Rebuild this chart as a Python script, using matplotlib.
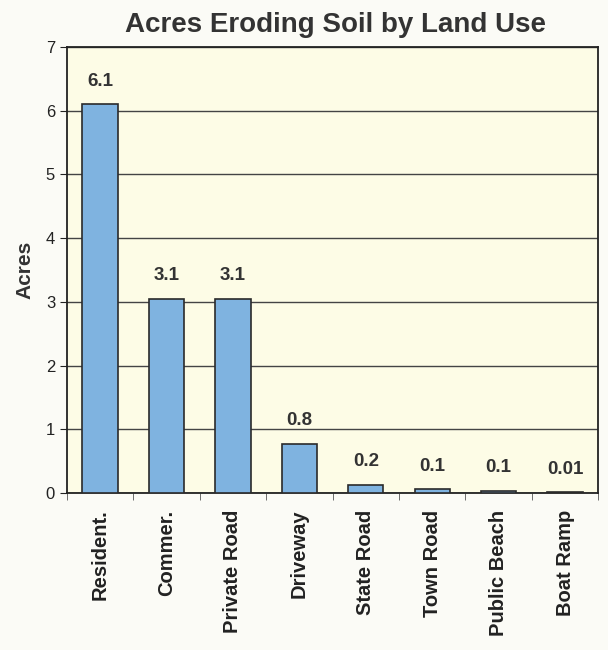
import matplotlib
matplotlib.use('Agg')
import matplotlib.pyplot as plt
import numpy as np

categories = ['Resident.', 'Commer.', 'Private Road', 'Driveway',
              'State Road', 'Town Road', 'Public Beach', 'Boat Ramp']
acres = [6.1, 3.05, 3.05, 0.77, 0.13, 0.06, 0.03, 0.01]
value_labels = ['6.1', '3.1', '3.1', '0.8', '0.2', '0.1', '0.1', '0.01']

plt.rcParams['font.family'] = ['Liberation Sans', 'DejaVu Sans']

fig = plt.figure(figsize=(6.08, 6.5), dpi=100)
fig.patch.set_facecolor('#fbfbf6')
ax = fig.add_axes([0.110, 0.2415, 0.874, 0.6865])
ax.set_facecolor('#fdfce6')

x = np.arange(len(categories))
ax.bar(x, acres, width=0.53, color='#7fb3e0', edgecolor='#2a2a2a', linewidth=1.2, zorder=3)

# etiket nilai di atas tiap batang
for xi, v, lab in zip(x, acres, value_labels):
    ax.text(xi, v + 0.23, lab, ha='center', va='bottom',
            fontsize=13.5, fontweight='bold', color='#333333')

ax.set_xlim(-0.5, len(categories) - 0.5)
ax.set_ylim(0, 7)
ax.set_yticks(range(8))
ax.yaxis.grid(True, color='#444444', linewidth=1.0, zorder=0)
ax.tick_params(axis='y', labelsize=12, length=5, colors='#222222')

ax.set_xticks(x)
ax.set_xticklabels(categories, rotation=90, fontsize=14.5, fontweight='bold', color='#222222')
ax.tick_params(axis='x', length=0, pad=12)
ax.set_xticks(np.arange(len(categories) + 1) - 0.5, minor=True)
ax.tick_params(axis='x', which='minor', length=5, color='#555555')

for s in ax.spines.values():
    s.set_color('#222222')
    s.set_linewidth(1.3)

ax.set_ylabel('Acres', fontsize=15, fontweight='bold', color='#333333', labelpad=8)
fig.suptitle('Acres Eroding Soil by Land Use', x=0.552, y=0.982, fontsize=20,
             fontweight='bold', color='#333333')

fig.savefig('out.png', dpi=100, facecolor=fig.get_facecolor())
